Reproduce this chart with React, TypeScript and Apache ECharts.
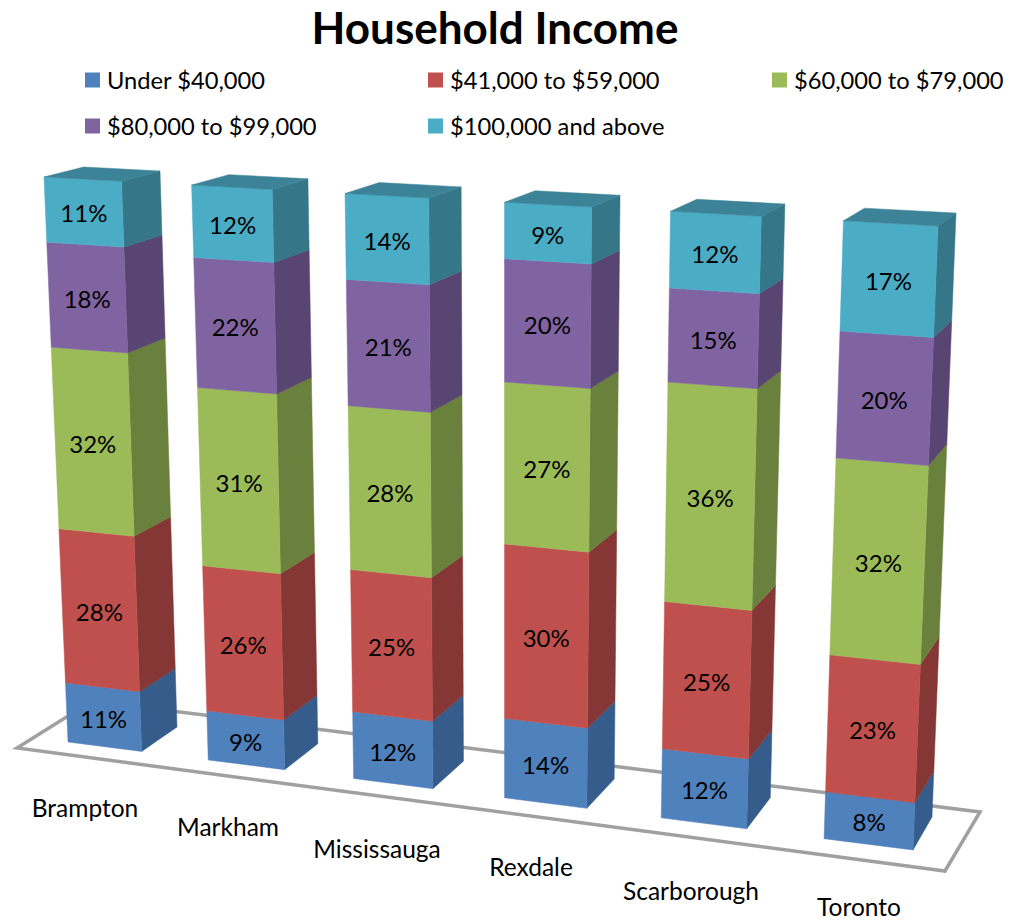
import React, { useEffect, useRef } from "react";
import * as echarts from "echarts";

const categories = ["Brampton", "Markham", "Mississauga", "Rexdale", "Scarborough", "Toronto"];
const seriesNames = ["Under $40,000", "$41,000 to $59,000", "$60,000 to $79,000", "$80,000 to $99,000", "$100,000 and above"];
const under40 = [11, 9, 12, 14, 12, 8];
const from41 = [28, 26, 25, 30, 25, 23];
const from60 = [32, 31, 28, 27, 36, 32];
const from80 = [18, 22, 21, 20, 15, 20];
const above100 = [11, 12, 14, 9, 12, 17];
const allValues = [under40, from41, from60, from80, above100];

const frontColors = ["#4F81BD", "#C0504D", "#9BBB59", "#8064A2", "#4BACC6"];
const sideColors = ["#355C8A", "#843735", "#6A803D", "#584571", "#357689"];
const topColor = "#3D8398";

const FONT = "Lato";
const BAR_WIDTH = 0.53;

type P = [number, number];
function squareToQuad(p0: P, p1: P, p2: P, p3: P) {
  const dx1 = p1[0] - p2[0], dx2 = p3[0] - p2[0], sx = p0[0] - p1[0] + p2[0] - p3[0];
  const dy1 = p1[1] - p2[1], dy2 = p3[1] - p2[1], sy = p0[1] - p1[1] + p2[1] - p3[1];
  const den = dx1 * dy2 - dx2 * dy1;
  const g = (sx * dy2 - dx2 * sy) / den;
  const h = (dx1 * sy - sx * dy1) / den;
  const a = p1[0] - p0[0] + g * p1[0], b = p3[0] - p0[0] + h * p3[0];
  const d = p1[1] - p0[1] + g * p1[1], e = p3[1] - p0[1] + h * p3[1];
  return (u: number, v: number): P => {
    const q = g * u + h * v + 1;
    return [(a * u + b * v + p0[0]) / q, (d * u + e * v + p0[1]) / q];
  };
}
// Perspective of the 3D scene: front plane and back plane of the bars.
const frontPlane = squareToQuad([68, 742], [913, 850], [938, 226], [44, 177]);
const backPlane = squareToQuad([177, 727], [932, 817], [956, 213], [160, 171]);
const span = categories.length - 1;
const front = (u: number, t: number) => frontPlane(u / (span + BAR_WIDTH), t);
const back = (u: number, t: number) => backPlane((u - BAR_WIDTH) / span, t);

const categoryLabelPos: P[] = [[85, 807], [228, 826], [377, 848], [531, 866], [691, 890], [859, 906]];
const legendPos: P[] = [[80, 63], [423, 63], [767, 63], [80, 109], [423, 109]];

function makeRenderItem(seriesIdx: number) {
  return (params: any, api: any) => {
    const cs = params.coordSys;
    const band = cs.width / categories.length;
    const cat = api.value(0);
    const startV = api.value(1);
    const endV = api.value(2);
    const value = api.value(3);
    const u = (api.coord([cat, 0])[0] - cs.x) / band - 0.5;
    const bottom = cs.y + cs.height;
    const t0 = (bottom - api.coord([cat, startV])[1]) / cs.height;
    const t1 = (bottom - api.coord([cat, endV])[1]) / cs.height;
    const fl0 = front(u, t0), fr0 = front(u + BAR_WIDTH, t0);
    const fl1 = front(u, t1), fr1 = front(u + BAR_WIDTH, t1);
    const br0 = back(u + BAR_WIDTH, t0), br1 = back(u + BAR_WIDTH, t1);
    const children: any[] = [
      { type: "polygon", shape: { points: [fr0, br0, br1, fr1] }, style: { fill: sideColors[seriesIdx], stroke: sideColors[seriesIdx], lineWidth: 0.5 } },
      { type: "polygon", shape: { points: [fl0, fr0, fr1, fl1] }, style: { fill: frontColors[seriesIdx], stroke: frontColors[seriesIdx], lineWidth: 0.5 } },
    ];
    if (seriesIdx === allValues.length - 1) {
      children.push({ type: "polygon", shape: { points: [fl1, fr1, br1, back(u, t1)] }, style: { fill: topColor, stroke: topColor, lineWidth: 0.5 } });
    }
    const c = front(u + BAR_WIDTH / 2, (t0 + t1) / 2);
    children.push({
      type: "text",
      x: c[0],
      y: c[1] + 1,
      style: { text: value + "%", fill: "#000", font: `24px ${FONT}`, align: "center", verticalAlign: "middle" },
    });
    return { type: "group", children };
  };
}

export default function App() {
  const ref = useRef<HTMLDivElement>(null);
  useEffect(() => {
    const chart = echarts.init(ref.current!, undefined, { renderer: "svg" });
    const series = allValues.map((vals, s) => ({
      type: "custom",
      name: seriesNames[s],
      renderItem: makeRenderItem(s),
      coordinateSystem: "cartesian2d",
      clip: false,
      z: 3,
      itemStyle: { color: frontColors[s] },
      encode: { x: 0, y: [1, 2] },
      data: vals.map((v, c) => {
        let start = 0;
        for (let k = 0; k < s; k++) start += allValues[k][c];
        return [c, start, start + v, v];
      }),
    }));
    chart.setOption({
      animation: false,
      backgroundColor: "#ffffff",
      title: {
        text: "Household Income",
        left: 490,
        top: 0,
        padding: [4, 5, 0, 5],
        textAlign: "center",
        textStyle: { fontFamily: FONT, fontWeight: "bold", fontSize: 44, lineHeight: 46, color: "#000" },
      },
      legend: seriesNames.map((name, s) => ({
        data: [name],
        left: legendPos[s][0],
        top: legendPos[s][1],
        icon: "rect",
        itemWidth: 15,
        itemHeight: 15,
        itemGap: 0,
        selectedMode: false,
        textStyle: { fontFamily: FONT, fontSize: 23.7, color: "#000", padding: [0, 0, 0, 2] },
      })),
      grid: { left: 0, right: 0, top: 0, bottom: 0 },
      xAxis: { type: "category", data: categories, show: false },
      yAxis: { type: "value", min: 0, max: 100, show: false },
      graphic: [
        {
          type: "polygon",
          z: 1,
          shape: { points: [[17, 748], [92, 701], [980, 812], [945, 871]] },
          style: { fill: "none", stroke: "#A0A0A0", lineWidth: 3.5 },
        },
        ...categories.map((name, i) => ({
          type: "text",
          z: 5,
          x: categoryLabelPos[i][0],
          y: categoryLabelPos[i][1],
          style: { text: name, fill: "#000", font: `24.5px ${FONT}`, align: "center", verticalAlign: "middle" },
        })),
      ],
      series,
    });
    return () => chart.dispose();
  }, []);
  return <div ref={ref} style={{ position: "absolute", left: 0, top: 0, width: 1011, height: 920 }} />;
}
